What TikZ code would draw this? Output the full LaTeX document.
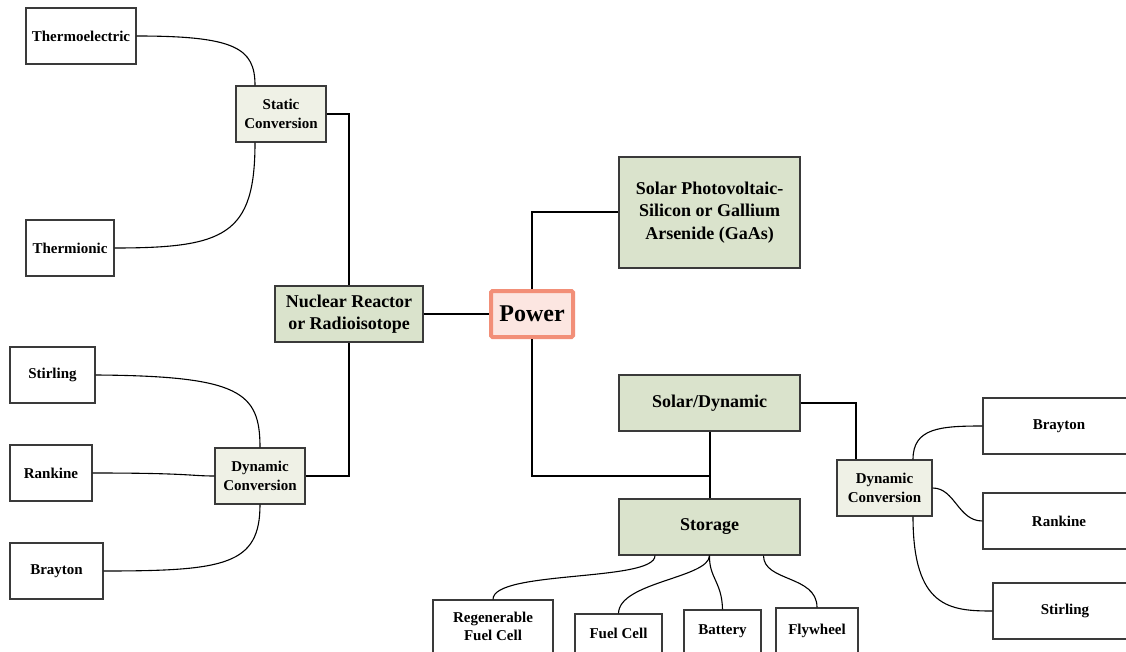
\documentclass[tikz,border=0pt]{standalone}
\usepackage{fontspec}
\setmainfont{Liberation Serif}
\usetikzlibrary{calc}
\definecolor{boxline}{HTML}{3A3A3A}
\definecolor{biggreen}{HTML}{DAE3CC}
\definecolor{lightgreen}{HTML}{EFF1E6}
\definecolor{pwfill}{HTML}{FCE6E1}
\definecolor{pwline}{HTML}{F28F78}
\begin{document}
\begin{tikzpicture}[x=1pt,y=-1pt,
  box/.style={draw=boxline, line width=1.2pt, fill=white, inner sep=0pt, align=center,
              font=\bfseries\fontsize{15}{18.5}\selectfont},
  bigbox/.style={box, fill=biggreen, font=\bfseries\fontsize{18}{22.5}\selectfont},
  convbox/.style={box, fill=lightgreen},
  powerbox/.style={draw=pwline, fill=pwfill, line width=4pt, rounded corners=1.5pt, inner sep=0pt,
              font=\bfseries\fontsize{24}{28}\selectfont},
  link/.style={line width=2pt, black},
  curve/.style={line width=1.1pt, black}]
\clip (0,0) rectangle (1126,652);
\fill[white] (0,0) rectangle (1126,652);

% main nodes
\node[powerbox, minimum width=82, minimum height=46] (pw) at (532,314) {Power};
\node[bigbox, minimum width=148, minimum height=56] (nr) at (349,314) {Nuclear Reactor\\or Radioisotope};
\node[bigbox, minimum width=181, minimum height=111] (pv) at (709.5,212.5) {Solar Photovoltaic-\\Silicon or Gallium\\Arsenide (GaAs)};
\node[bigbox, minimum width=181, minimum height=56] (sd) at (709.5,403) {Solar/Dynamic};
\node[bigbox, minimum width=181, minimum height=56] (st) at (709.5,527) {Storage};

% conversion nodes
\node[convbox, minimum width=90, minimum height=56] (sc) at (281,114) {Static\\Conversion};
\node[convbox, minimum width=90, minimum height=56] (dl) at (260,476) {Dynamic\\Conversion};
\node[convbox, minimum width=95, minimum height=56] (dr) at (884.5,488) {Dynamic\\Conversion};

% leaf nodes left
\node[box, minimum width=110, minimum height=56] (te) at (81,36) {Thermoelectric};
\node[box, minimum width=88, minimum height=56] (ti) at (70,248) {Thermionic};
\node[box, minimum width=85, minimum height=56] (sl) at (52.5,375) {Stirling};
\node[box, minimum width=82, minimum height=56] (rl) at (51,473) {Rankine};
\node[box, minimum width=93, minimum height=56] (bl) at (56.5,571) {Brayton};

% leaf nodes right
\node[box, minimum width=152, minimum height=56] (br) at (1059,426) {Brayton};
\node[box, minimum width=152, minimum height=56] (rr) at (1059,521) {Rankine};
\node[box, minimum width=144, minimum height=56] (sr) at (1065,611) {Stirling};

% leaf nodes bottom
\node[box, minimum width=120, minimum height=53] (rg) at (493,626.5) {Regenerable\\Fuel Cell};
\node[box, minimum width=87, minimum height=39] (fc) at (618.5,633.5) {Fuel Cell};
\node[box, minimum width=77, minimum height=43] (bt) at (722.5,631.5) {Battery};
\node[box, minimum width=82, minimum height=46] (fw) at (817,631) {Flywheel};

% thick links
\draw[link] (sc.east) -| (nr.north);
\draw[link] (nr.east) -- (pw.west);
\draw[link] (nr.south) |- (dl.east);
\draw[link] (pw.north) |- (pv.west);
\draw[link] (pw.south) |- ($(sd.south)!0.67!(st.north)$);
\draw[link] (sd.south) -- (st.north);
\draw[link] (sd.east) -| ($(dr.north)+(-28.5,0)$);

% curved links
\draw[curve] (te.east) .. controls (235,36) and (255,48) .. ($(sc.north)+(-26,0)$);
\draw[curve] ($(sc.south)+(-26,0)$) .. controls (255,235) and (225,248) .. (ti.east);
\draw[curve] (sl.east) .. controls (240,376) and (260,392) .. (dl.north);
\draw[curve] (rl.east) .. controls (190,473) and (190,476) .. (dl.west);
\draw[curve] (dl.south) .. controls (260,565) and (225,571) .. (bl.east);

\draw[curve] ($(st.south)+(-54.5,0)$) .. controls (655,582) and (493,570) .. (rg.north);
\draw[curve] (st.south) .. controls (709,578) and (619,582) .. (fc.north);
\draw[curve] (st.south) .. controls (709,578) and (722,582) .. (bt.north);
\draw[curve] ($(st.south)+(54,0)$) .. controls (763.5,582) and (817,575) .. (fw.north);

\draw[curve] ($(dr.north)+(28.5,0)$) .. controls (913,428) and (940,426) .. (br.west);
\draw[curve] (dr.east) .. controls (955,488) and (958,521) .. (rr.west);
\draw[curve] ($(dr.south)+(28.5,0)$) .. controls (913,608) and (950,611) .. (sr.west);
\end{tikzpicture}
\end{document}
